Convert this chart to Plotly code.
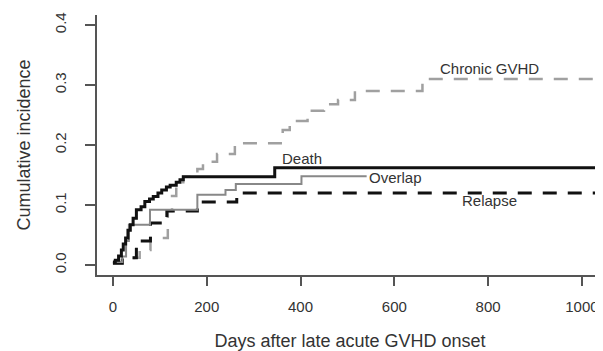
import plotly.graph_objects as go

# Step-function data (days, cumulative incidence)
death_t = [0, 5, 12, 18, 22, 27, 32, 37, 43, 50, 60, 68, 78, 86, 96, 104, 114, 122, 135, 143, 150, 345, 1045]
death_v = [0.005, 0.008, 0.015, 0.025, 0.035, 0.045, 0.058, 0.067, 0.078, 0.092, 0.097, 0.106, 0.110, 0.114, 0.120, 0.125, 0.130, 0.133, 0.138, 0.142, 0.147, 0.162, 0.162]

overlap_t = [0, 20, 28, 34, 79, 180, 240, 262, 402, 541]
overlap_v = [0.005, 0.014, 0.040, 0.067, 0.092, 0.117, 0.125, 0.135, 0.148, 0.148]

relapse_t = [0, 20, 50, 80, 115, 180, 264, 1045]
relapse_v = [0.003, 0.012, 0.040, 0.070, 0.090, 0.105, 0.120, 0.120]

chronic_t = [0, 20, 45, 57, 80, 117, 126, 135, 150, 180, 192, 222, 260, 362, 377, 415, 450, 480, 516, 660, 1045]
chronic_v = [0.003, 0.008, 0.012, 0.025, 0.045, 0.090, 0.115, 0.130, 0.147, 0.160, 0.172, 0.185, 0.203, 0.225, 0.240, 0.257, 0.268, 0.275, 0.290, 0.310, 0.310]

labels = ["Chronic GVHD", "Death", "Overlap", "Relapse"]
label_x = [804, 403, 603, 804]
label_y = [0.328, 0.178, 0.145, 0.107]

x_ticks = [0, 200, 400, 600, 800, 1000]
y_ticks = [0.0, 0.1, 0.2, 0.3, 0.4]

fig = go.Figure()
fig.add_trace(go.Scatter(x=chronic_t, y=chronic_v, mode="lines", line_shape="hv",
                         line=dict(color="#a0a0a0", width=2.5, dash="14px,11px")))
fig.add_trace(go.Scatter(x=relapse_t, y=relapse_v, mode="lines", line_shape="hv",
                         line=dict(color="#111111", width=3, dash="14px,11px")))
fig.add_trace(go.Scatter(x=overlap_t, y=overlap_v, mode="lines", line_shape="hv",
                         line=dict(color="#888888", width=2)))
fig.add_trace(go.Scatter(x=death_t, y=death_v, mode="lines", line_shape="hv",
                         line=dict(color="#111111", width=3)))

for lab, lx, ly in zip(labels, label_x, label_y):
    fig.add_annotation(x=lx, y=ly, text=lab, showarrow=False,
                       font=dict(family="Liberation Sans, Arial", size=15, color="#333333"))

font = dict(family="Liberation Sans, Arial", size=15, color="#333333")
fig.update_layout(
    width=595, height=343,
    margin=dict(l=89, r=0, t=7, b=76),
    paper_bgcolor="white", plot_bgcolor="white",
    showlegend=False,
    font=font,
    xaxis=dict(range=[-34, 1045], tickvals=x_ticks, ticktext=[str(v) for v in x_ticks],
               automargin=False,
               showgrid=False, zeroline=False, showline=True, linecolor="#555555", linewidth=1.5,
               ticks="outside", ticklen=9, tickcolor="#555555", tickwidth=1.5,
               ticklabelstandoff=8,
               title=dict(text="Days after late acute GVHD onset", standoff=26)),
    yaxis=dict(range=[-0.0167, 0.4167], tickvals=y_ticks, ticktext=[f"{v:.1f}" for v in y_ticks],
               automargin=False,
               showgrid=False, zeroline=False, showline=True, linecolor="#555555", linewidth=1.5,
               ticks="outside", ticklen=10, tickcolor="#555555", tickwidth=1.5, tickangle=-90,
               ticklabelstandoff=13,
               title=dict(text="Cumulative incidence", standoff=17)),
)

fig.write_html("out.html")
